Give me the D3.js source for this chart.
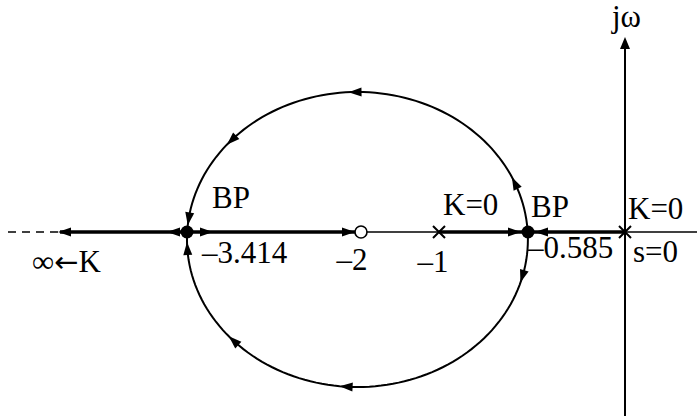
<!DOCTYPE html>
<html>
<head>
<meta charset="utf-8">
<script src="https://cdn.jsdelivr.net/npm/d3@7"></script>
<style>
body { margin: 0; background: #fff; }
text { font-family: "Liberation Serif", "Times New Roman", serif; font-size: 31px; fill: #000; }
</style>
</head>
<body>
<div id="chart"></div>
<script>
// root locus of K(s+2) / (s(s+1)) -- drawn schematic, real axis not to scale
var poles = [0, -1];
var zeros = [-2];
var breakPoints = [-3.414, -0.585];
var locusCenter = -2, locusRadius = Math.SQRT2;
var axisStops = [-6, -5, -3.414, -2, -1, -0.585, 0, 0.4];   // -6..-5 is the dashed "to infinity" bit
var thickSegments = [[-5, -3.414], [-3.414, -2], [-1, -0.585], [-0.585, 0]];
var tickValues = [-3.414, -2, -1, -0.585];
var tickLabels = ["\u20133.414", "\u20132", "\u20131", "\u20130.585"];
var upperArrows = [25, 93, 140, 174.5];     // angle on the circle (deg), K increasing -> ccw
var lowerArrows = [-17, -96, -139, -179];   // K increasing -> cw

var W = 697, H = 416, axisY = 232;

var svg = d3.select("#chart").append("svg").attr("width", W).attr("height", H);

var x = d3.scaleLinear().domain(axisStops).range([8, 60, 187, 361, 439, 528, 625, 697]);
// circle drawn with its own scales so it meets the break points
var xc = d3.scaleLinear().domain(breakPoints).range(breakPoints.map(x));
var yc = d3.scaleLinear().domain([-locusRadius, locusRadius]).range([387, 92]);

function locusPt(deg) {
  var t = deg * Math.PI / 180;
  return [xc(locusCenter + locusRadius * Math.cos(t)), yc(locusRadius * Math.sin(t))];
}

function arrowHead(g, tx, ty, ang, len, hw) {
  g.append("path")
    .attr("d", "M0,0L" + (-len) + "," + (-hw) + "L" + (-len) + "," + hw + "Z")
    .attr("transform", "translate(" + tx + "," + ty + ")rotate(" + ang + ")")
    .attr("fill", "#000");
}

// ---- axes
svg.append("line").attr("x1", x(-6)).attr("x2", x(-5)).attr("y1", axisY).attr("y2", axisY)
  .attr("stroke", "#000").attr("stroke-width", 1.5).attr("stroke-dasharray", "8,6");
svg.append("line").attr("x1", x(-5)).attr("x2", W).attr("y1", axisY).attr("y2", axisY)
  .attr("stroke", "#000").attr("stroke-width", 1.5);
svg.append("line").attr("x1", x(0)).attr("x2", x(0)).attr("y1", H).attr("y2", 46)
  .attr("stroke", "#000").attr("stroke-width", 2);
arrowHead(svg, x(0), 37, -90, 12, 5);

svg.append("text").attr("x", 612).attr("y", 27).text("j\u03c9");

// ---- real axis locus
svg.selectAll("line.seg").data(thickSegments).enter().append("line")
  .attr("class", "seg")
  .attr("x1", function(d) { return x(d[0]); })
  .attr("x2", function(d) { return x(d[1]); })
  .attr("y1", axisY).attr("y2", axisY)
  .attr("stroke", "#000").attr("stroke-width", 3.5);

var ga = svg.append("g");
arrowHead(ga, x(-5) - 2, axisY, 180, 13, 4.5);
arrowHead(ga, x(breakPoints[0]) - 20, axisY, 180, 13, 4.5);
arrowHead(ga, x(breakPoints[0]) + 26, axisY, 0, 13, 4.5);
arrowHead(ga, x(zeros[0]) - 6, axisY, 0, 13, 4.5);
arrowHead(ga, x(breakPoints[1]) - 7, axisY, 0, 13, 4.5);
arrowHead(ga, x(breakPoints[1]) + 7, axisY, 180, 13, 4.5);

// ---- complex circle
var circ = d3.range(0, 361, 2).map(locusPt);
svg.append("path").attr("d", d3.line()(circ))
  .attr("fill", "none").attr("stroke", "#000").attr("stroke-width", 2);

function circleArrow(deg, dir) {
  var tip = locusPt(deg), base = locusPt(deg - dir * 4);
  var ang = Math.atan2(tip[1] - base[1], tip[0] - base[0]) * 180 / Math.PI;
  arrowHead(ga, tip[0], tip[1], ang, 13, 4.5);
}
upperArrows.forEach(function(d) { circleArrow(d, 1); });
lowerArrows.forEach(function(d) { circleArrow(d, -1); });

// ---- poles, zero, break points
svg.selectAll("circle.bp").data(breakPoints).enter().append("circle")
  .attr("class", "bp").attr("cx", function(d) { return x(d); }).attr("cy", axisY)
  .attr("r", 6.5).attr("fill", "#000");

svg.selectAll("circle.zero").data(zeros).enter().append("circle")
  .attr("class", "zero").attr("cx", function(d) { return x(d); }).attr("cy", axisY)
  .attr("r", 6).attr("fill", "#fff").attr("stroke", "#000").attr("stroke-width", 1.6);

var pg = svg.selectAll("g.pole").data(poles).enter().append("g")
  .attr("class", "pole").attr("transform", function(d) { return "translate(" + x(d) + "," + axisY + ")"; });
pg.append("path").attr("d", "M-6,-6L6,6M-6,6L6,-6").attr("stroke", "#000").attr("stroke-width", 2);

// ---- labels
var tickDx = [15, -9, -6, 0], tickBase = [263, 270, 272, 258], tickAnchor = ["start", "middle", "middle", "start"];
svg.selectAll("text.tick").data(tickValues).enter().append("text")
  .attr("class", "tick")
  .attr("x", function(d, i) { return x(d) + tickDx[i]; })
  .attr("y", function(d, i) { return tickBase[i]; })
  .attr("text-anchor", function(d, i) { return tickAnchor[i]; })
  .text(function(d, i) { return tickLabels[i]; });

svg.append("text").attr("x", x(breakPoints[0]) + 25).attr("y", 208).text("BP");
svg.append("text").attr("x", x(breakPoints[1]) + 3).attr("y", 217).text("BP");
svg.append("text").attr("x", x(poles[1]) + 4).attr("y", 215).text("K=0");
svg.append("text").attr("x", x(poles[0]) + 3).attr("y", 219).text("K=0");
svg.append("text").attr("x", x(poles[0]) + 8).attr("y", 262).text("s=0");
var inf = svg.append("text").attr("x", 32).attr("y", 272);
inf.append("tspan").text("\u221e");
inf.append("tspan").style("font-family", "'DejaVu Sans'").style("font-size", "29px").text("\u2190");
inf.append("tspan").text("K");
</script>
</body>
</html>
